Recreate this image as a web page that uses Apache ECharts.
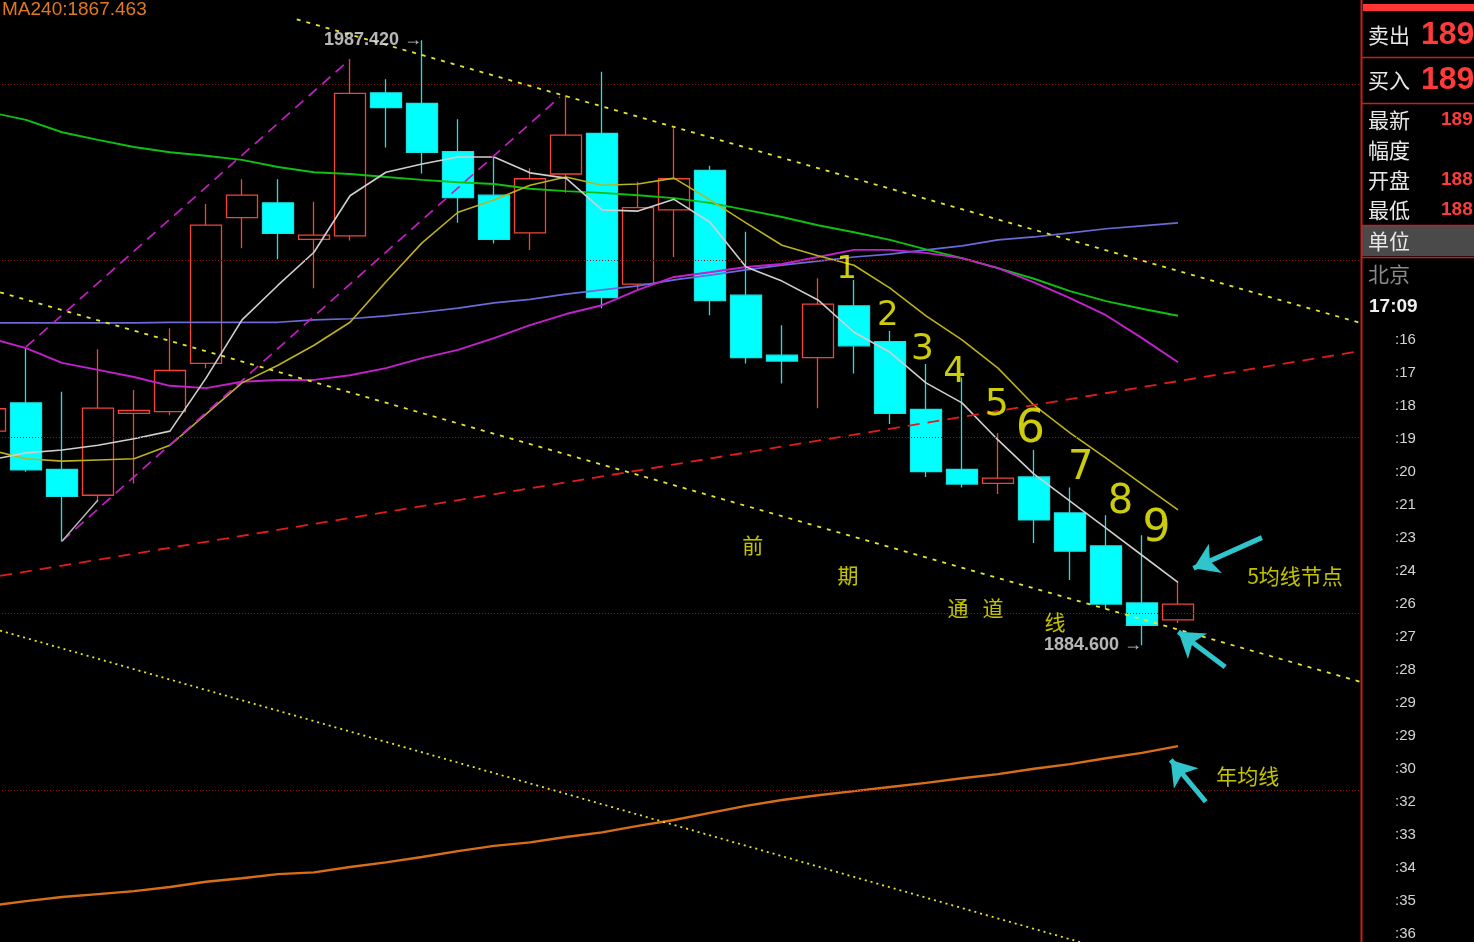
<!DOCTYPE html>
<html><head><meta charset="utf-8">
<script src="https://cdn.jsdelivr.net/npm/echarts@6.0.0/dist/echarts.min.js"></script>
<style>html,body{margin:0;padding:0;background:#000;}#c{width:1474px;height:942px;}</style>
</head><body><div id="c"></div>
<script>
// ---------- data ----------
const categories = ['D01','D02','D03','D04','D05','D06','D07','D08','D09','D10','D11','D12','D13','D14','D15','D16','D17','D18','D19','D20',
  'D21','D22','D23','D24','D25','D26','D27','D28','D29','D30','D31','D32','D33','D34','D35','D36','D37','D38','D39','D40'];
// [open, close, low, high]
const ohlc = [
  [1921.0,1924.8,1919.5,1926.5],
  [1925.8,1914.4,1914.1,1935.1],
  [1914.5,1909.9,1902.2,1927.7],
  [1910.1,1924.9,1909.3,1934.9],
  [1924.0,1924.5,1912.1,1928.0],
  [1924.3,1931.3,1923.7,1938.5],
  [1932.5,1956.0,1931.7,1959.6],
  [1957.3,1961.1,1952.1,1963.8],
  [1959.8,1954.6,1950.2,1963.8],
  [1953.6,1954.3,1945.3,1960.0],
  [1954.2,1978.4,1953.4,1984.2],
  [1978.5,1976.0,1969.2,1980.8],
  [1976.7,1968.4,1964.8,1987.42],
  [1968.5,1960.7,1956.4,1974.0],
  [1961.1,1953.6,1952.9,1967.6],
  [1954.7,1963.9,1951.8,1965.7],
  [1964.7,1971.3,1961.5,1978.1],
  [1971.6,1943.7,1941.9,1982.1],
  [1946.0,1959.0,1945.0,1963.4],
  [1958.6,1963.9,1950.6,1972.5],
  [1965.3,1943.2,1940.7,1966.1],
  [1944.1,1933.5,1932.5,1954.9],
  [1933.9,1932.9,1929.1,1939.0],
  [1933.5,1942.6,1924.9,1947.0],
  [1942.3,1935.5,1930.8,1946.7],
  [1936.2,1924.0,1922.2,1938.0],
  [1924.7,1914.1,1913.2,1932.4],
  [1914.5,1912.0,1911.4,1930.1],
  [1912.1,1913.0,1910.3,1920.7],
  [1913.2,1905.9,1902.0,1917.8],
  [1907.1,1900.6,1895.7,1911.4],
  [1901.5,1891.6,1890.7,1906.7],
  [1891.8,1888.0,1884.6,1903.3],
  [1888.9,1891.6,1888.4,1895.4]
];
const ma5 = [1916.1,1917.3,1917.8,1918.6,1919.7,1921.0,1930.0,1939.9,1945.8,1951.4,1961.0,1965.0,1966.4,1967.6,1967.6,1964.9,1964.0,1958.6,1958.4,1960.4,
  1956.5,1948.9,1946.5,1943.3,1937.8,1934.4,1929.2,1925.8,1919.5,1913.7,1909.1,1904.5,1899.9,1895.3];
const ma10 = [1917.8,1916.3,1915.9,1916.1,1916.3,1918.6,1923.9,1929.2,1932.2,1935.6,1939.5,1946.4,1953.0,1958.2,1960.3,1962.8,1964.2,1962.8,1963.0,1964.0,
  1960.3,1956.4,1952.6,1950.8,1949.2,1945.3,1940.6,1936.5,1931.7,1925.4,1920.7,1916.4,1912.0,1907.6];
const ma30 = [1936.8,1935.1,1932.6,1931.4,1930.2,1928.7,1928.3,1929.4,1929.7,1929.7,1930.5,1931.7,1933.4,1934.8,1936.8,1939.0,1940.9,1942.4,1945.0,1947.2,
  1948.0,1948.9,1949.4,1950.6,1951.8,1951.8,1951.3,1950.4,1948.7,1946.3,1943.6,1940.7,1936.8,1932.7];
const ma60 = [1975.2,1973.9,1971.8,1970.5,1969.3,1968.4,1967.8,1967.1,1965.9,1965.0,1964.7,1964.2,1963.7,1963.3,1963.0,1962.2,1961.8,1961.5,1961.1,1960.6,
  1959.8,1958.6,1957.4,1956.0,1954.8,1953.5,1951.9,1950.4,1948.7,1946.9,1944.8,1943.1,1941.8,1940.6];
const ma120 = [1939.4,1939.4,1939.4,1939.4,1939.4,1939.5,1939.5,1939.5,1939.5,1939.9,1940.1,1940.6,1941.2,1941.9,1942.8,1943.4,1944.3,1945.0,1945.7,1946.7,
  1947.5,1948.4,1949.2,1949.9,1950.6,1951.1,1951.8,1952.5,1953.5,1954.0,1954.7,1955.4,1955.9,1956.4];
const ma240 = [1840.3,1841.1,1841.8,1842.3,1842.8,1843.5,1844.4,1845.0,1845.7,1846.0,1846.9,1847.7,1848.6,1849.6,1850.5,1851.1,1852.0,1852.8,1853.9,1854.9,
  1856.1,1857.3,1858.3,1859.1,1859.8,1860.5,1861.2,1862.0,1862.7,1863.6,1864.4,1865.4,1866.3,1867.463];
const gridValues = [1860,1890,1920,1950,1980];
// hand drawn lines: [index position, price]
const channelUpper = [[8.52,1991.0],[38.06,1939.4]];
const channelMid = [[0.28,1944.6],[38.06,1878.4]];
const channelLower = [[0.28,1887.1],[38.06,1820.4]];
const redTrend = [[0.28,1896.4],[38.06,1934.6]];
const upChannelA = [[1,1935.3],[10,1984.2]];
const upChannelB = [[2,1902.3],[15.83,1977.8]];
const upStub = [[2,1902.3],[3,1909.3]];
const arrowCoords = [
  [[35.33,1902.9],[33.43,1897.7]],
  [[34.31,1880.9],[33.01,1886.9]],
  [[33.77,1858.0],[32.80,1865.1]]
];
const countMarks = [['1',23.8,1948.4,32],['2',24.94,1940.6,34],['3',25.9,1934.8,36],['4',26.8,1931.0,36],['5',27.97,1925.4,38],
  ['6',28.9,1921.2,46],['7',30.3,1914.7,40],['8',31.4,1908.8,40],['9',32.4,1904.2,44]];
const notes = [['前',21.19,1901.6],['期',23.83,1896.5],['通',26.89,1891.0],['道',27.86,1891.0],['线',29.58,1888.5],
  ['5均线节点',36.25,1896.4],['年均线',34.94,1862.4]];
const extremes = [['1987.420 →',12,1987.42],['1884.600 →',32,1884.6]];
const maTitle = 'MA240:1867.463';
const quoteLabels = ['卖出','买入','最新','幅度','开盘','最低','单位','北京'];
const quoteValues = ['189','189','189','','188','188','',''];
const clockText = '17:09';
const timeLabels = [':16',':17',':18',':19',':20',':21',':23',':24',':26',':27',':28',':29',':29',':30',':32',':33',':34',':35',':36'];

// ---------- chart ----------
const chart = echarts.init(document.getElementById('c'));
function maSeries(data, color, width) {
  return {type:'line', data:data, xAxisIndex:0, yAxisIndex:0, symbol:'none', smooth:false, z:4,
    lineStyle:{color:color, width:width}, silent:true};
}
function drawLine(data, color, dash, width, z) {
  return {type:'line', data:data, xAxisIndex:1, yAxisIndex:0, symbol:'none', z:z||5, silent:true,
    lineStyle:{color:color, width:width, type:dash}};
}
const graphics = [];
graphics.push({type:'text', left:2, top:0, z:200, style:{text:maTitle, fill:'#e07a22', fontSize:19, fontFamily:'Liberation Sans'}});
// right panel
graphics.push({type:'rect', shape:{x:1361, y:0, width:113, height:942}, style:{fill:'#000'}, z:100});
graphics.push({type:'rect', shape:{x:1362, y:226, width:112, height:30}, style:{fill:'#4a4a4a'}, z:101});
graphics.push({type:'rect', shape:{x:1363, y:4, width:111, height:7}, style:{fill:'#ff3434'}, z:101});
graphics.push({type:'line', shape:{x1:1361.5, y1:0, x2:1361.5, y2:942}, style:{stroke:'#c82020', lineWidth:2}, z:102});
[57,103,225,257].forEach(function(y){
  graphics.push({type:'line', shape:{x1:1362, y1:y+0.5, x2:1474, y2:y+0.5}, style:{stroke:'#c82020', lineWidth:1.5}, z:102});
});
const rowY = [35,80,120,150,180,210,241,274];
quoteLabels.forEach(function(t,i){
  graphics.push({type:'text', z:103, style:{text:t, x:1368, y:rowY[i], verticalAlign:'middle',
    fill: i===7 ? '#8a8a8a' : '#e8e8e8', fontSize:21, fontFamily:'Noto Sans CJK SC'}});
  if (quoteValues[i]) {
    const big = i < 2;
    graphics.push({type:'text', z:103, style:{text:quoteValues[i], x: big ? 1421 : 1441, y:rowY[i], verticalAlign:'middle',
      fill:'#ff3a3a', fontSize: big ? 32 : 19, fontWeight: 'bold', fontFamily:'Liberation Sans'}});
  }
});
graphics.push({type:'text', z:103, style:{text:clockText, x:1369, y:307, verticalAlign:'middle', fill:'#f0f0f0',
  fontSize:19, fontWeight:'bold', fontFamily:'Liberation Sans'}});
timeLabels.forEach(function(t,i){
  graphics.push({type:'text', z:103, style:{text:t, x:1395, y:340 + i*33, verticalAlign:'middle', fill:'#d4d4d4',
    fontSize:15, fontFamily:'Liberation Sans'}});
});

const option = {
  backgroundColor:'#000',
  animation:false,
  grid:{left:-28, width:1440, top:0, bottom:0, outerBoundsMode:'none', containLabel:false},
  xAxis:[
    {type:'category', data:categories, boundaryGap:true, show:false},
    {type:'value', min:-0.5, max:39.5, show:false}
  ],
  yAxis:{type:'value', min:1834.16, max:1994.28, show:false, splitLine:{show:false}, scale:true},
  graphic: graphics,
  series:[
    {type:'line', data:[], xAxisIndex:0, yAxisIndex:0, z:0, silent:true,
      markLine:{silent:true, symbol:'none', label:{show:false},
        lineStyle:{color:'#8c1010', type:[1,2], width:1},
        data: gridValues.map(function(v){return {yAxis:v};})}},
    {type:'candlestick', data:ohlc, xAxisIndex:0, yAxisIndex:0, barWidth:31, z:2, silent:true,
      itemStyle:{color:'transparent', color0:'#00ffff', borderColor:'#f04438', borderColor0:'#22e0e0', borderWidth:1.3}},
    maSeries(ma120,'#6a6ad8',1.7),
    maSeries(ma60,'#10c010',1.9),
    maSeries(ma30,'#c420cc',1.9),
    maSeries(ma10,'#bdb21a',1.6),
    maSeries(ma5,'#cfcfcf',1.6),
    maSeries(ma240,'#d86e18',2.4),
    drawLine(channelUpper,'#e6e62a',[4,6],1.8),
    drawLine(channelMid,'#e6e62a',[4,6],1.8),
    drawLine(channelLower,'#e6e62a',[2,4],1.8),
    drawLine(redTrend,'#e21c1c',[12,8],1.8),
    drawLine(upChannelA,'#c21fc2',[11,7],1.7),
    drawLine(upChannelB,'#c21fc2',[11,7],1.7),
    drawLine(upStub,'#bdbdbd','solid',1.5),
    {type:'lines', coordinateSystem:'cartesian2d', xAxisIndex:1, yAxisIndex:0, z:8, silent:true,
      symbol:['none','arrow'], symbolSize:24,
      lineStyle:{color:'#30c4cc', width:5, opacity:1, curveness:0},
      data: arrowCoords.map(function(c){return {coords:c};})},
    {type:'scatter', xAxisIndex:1, yAxisIndex:0, symbolSize:0, z:9, silent:true,
      data: countMarks.map(function(m){return {value:[m[1],m[2]], name:m[0],
        label:{show:true, position:'inside', formatter:m[0], color:'#ffff10', fontSize:m[3], fontFamily:'DejaVu Sans', fontWeight:'normal'}};})},
    {type:'scatter', xAxisIndex:1, yAxisIndex:0, symbolSize:0, z:9, silent:true,
      data: notes.map(function(m){return {value:[m[1],m[2]], name:m[0],
        label:{show:true, position:'inside', formatter:m[0], color:'#f2f200', fontSize:21, fontFamily:'Noto Sans CJK SC'}};})},
    {type:'scatter', xAxisIndex:1, yAxisIndex:0, symbolSize:0, z:9, silent:true,
      data: extremes.map(function(m){return {value:[m[1],m[2]], name:m[0],
        label:{show:true, position:'left', distance:0, formatter:m[0], color:'#e4e4e4', fontSize:18, fontWeight:'bold', fontFamily:'Liberation Sans'}};})}
  ]
};
chart.setOption(option);
</script></body></html>
